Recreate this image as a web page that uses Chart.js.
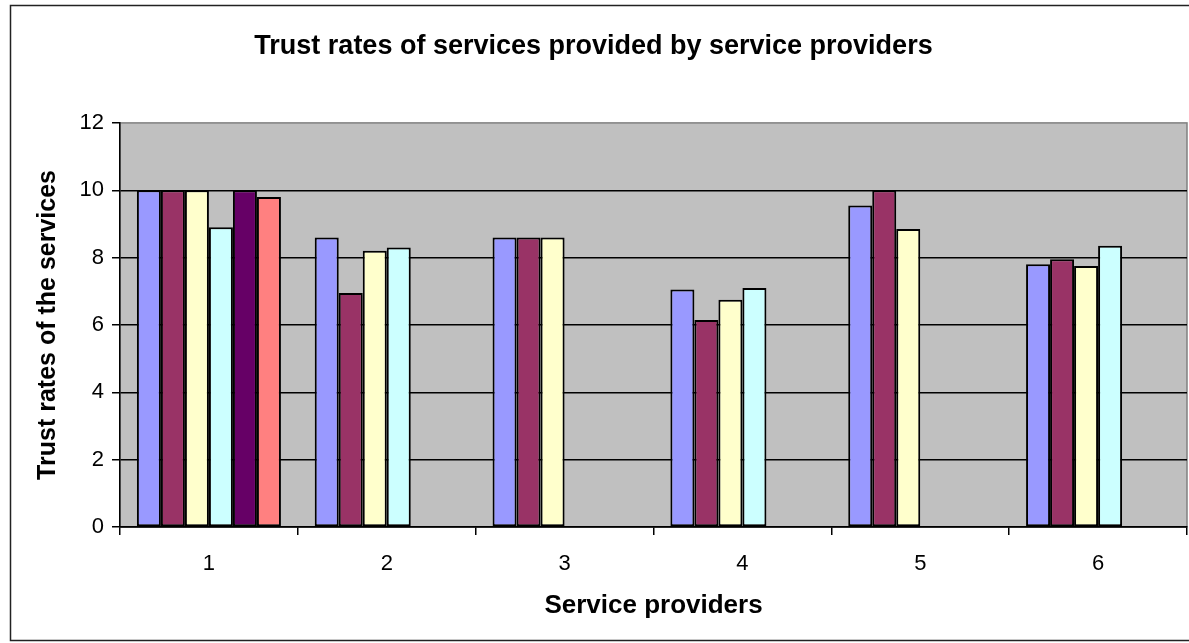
<!DOCTYPE html>
<html>
<head>
<meta charset="utf-8">
<title>Trust rates of services provided by service providers</title>
<script src="https://cdn.jsdelivr.net/npm/chart.js@4/dist/chart.umd.min.js"></script>
<style>
  html, body { margin: 0; padding: 0; background: #fff; overflow: hidden; }
  #wrap { position: relative; width: 1189px; height: 643px; }
</style>
</head>
<body>
<div id="wrap"><canvas id="trustChart" width="1189" height="643"></canvas></div>
<script>
'use strict';

/* ── Data ────────────────────────────────────────────────────────────────── */

const PROVIDERS = ['1', '2', '3', '4', '5', '6'];
const Y_TICKS = [0, 2, 4, 6, 8, 10, 12];

// one array per service; null = service not offered by that provider
const SERVICE_1 = [10, 8.6, 8.6, 7.05, 9.55, 7.8];
const SERVICE_2 = [10, 6.95, 8.6, 6.15, 10, 7.95];
const SERVICE_3 = [10, 8.2, 8.6, 6.75, 8.85, 7.75];
const SERVICE_4 = [8.9, 8.3, null, 7.1, null, 8.35];
const SERVICE_5 = [10, null, null, null, null, null];
const SERVICE_6 = [9.8, null, null, null, null, null];

const SERIES = [SERVICE_1, SERVICE_2, SERVICE_3, SERVICE_4, SERVICE_5, SERVICE_6];
const SERIES_COLORS = ['#9999FF', '#993366', '#FFFFCC', '#CCFFFF', '#660066', '#FF8080'];

/* ── Plot background + outer frame ───────────────────────────────────────── */

const excelFrame = {
    id: 'excelFrame',
    beforeDraw(chart) {
        const { ctx, chartArea: a } = chart;
        ctx.save();
        ctx.fillStyle = '#fff';
        ctx.fillRect(0, 0, chart.width, chart.height);
        // outer chart border
        ctx.strokeStyle = '#222';
        ctx.lineWidth = 1.5;
        ctx.strokeRect(10.5, 5.5, chart.width + 20, 635);
        // gray plot area
        ctx.fillStyle = '#C0C0C0';
        ctx.fillRect(a.left, a.top, a.right - a.left, a.bottom - a.top);
        ctx.strokeStyle = '#808080';
        ctx.lineWidth = 1.5;
        ctx.strokeRect(a.left, a.top, a.right - a.left, a.bottom - a.top);
        ctx.restore();
    },
};

/* ── Chart ───────────────────────────────────────────────────────────────── */

const FONT = "'Liberation Sans', Arial, sans-serif";

new Chart(document.getElementById('trustChart'), {
    type: 'bar',
    data: {
        labels: PROVIDERS,
        datasets: SERIES.map((data, i) => ({
            label: 'Service ' + (i + 1),
            data,
            backgroundColor: SERIES_COLORS[i],
            borderColor: '#000',
            borderWidth: 2,
            borderSkipped: false,
            barPercentage: 1,
            categoryPercentage: 0.81,
        })),
    },
    options: {
        responsive: false,
        animation: false,
        layout: { padding: { top: 0, right: 2, bottom: 0, left: 0 } },
        plugins: {
            legend: { display: false },
            tooltip: { enabled: false },
            title: {
                display: true,
                text: 'Trust rates of services provided by service providers',
                color: '#000',
                font: { family: FONT, size: 27, weight: 'bold' },
                padding: { top: 30.5, bottom: 60 },
            },
        },
        scales: {
            x: {
                afterFit: s => { s.height = 116; },
                grid: {
                    drawOnChartArea: false,
                    drawTicks: true,
                    tickLength: 8,
                    offset: true,
                    color: '#000',
                    lineWidth: 1.5,
                },
                border: { color: '#000', width: 1.5 },
                ticks: {
                    color: '#000',
                    padding: 16,
                    font: { family: FONT, size: 22 },
                },
                title: {
                    display: true,
                    text: 'Service providers',
                    color: '#000',
                    font: { family: FONT, size: 26, weight: 'bold' },
                    padding: { top: 0, bottom: 22 },
                },
            },
            y: {
                min: 0,
                max: 12,
                afterFit: s => { s.width = 120; },
                afterBuildTicks: s => { s.ticks = Y_TICKS.map(v => ({ value: v })); },
                grid: {
                    color: ctx => (ctx.tick && ctx.tick.value === 12 ? 'rgba(0,0,0,0)' : '#000'),
                    lineWidth: 1.5,
                    tickLength: 8,
                    tickColor: '#000',
                },
                border: { color: '#000', width: 1.5 },
                ticks: {
                    color: '#000',
                    padding: 8,
                    font: { family: FONT, size: 22 },
                },
                title: {
                    display: true,
                    text: 'Trust rates of the services',
                    color: '#000',
                    font: { family: FONT, size: 25, weight: 'bold' },
                    padding: { top: 33, bottom: 0 },
                },
            },
        },
    },
    plugins: [excelFrame],
});
</script>
</body>
</html>
